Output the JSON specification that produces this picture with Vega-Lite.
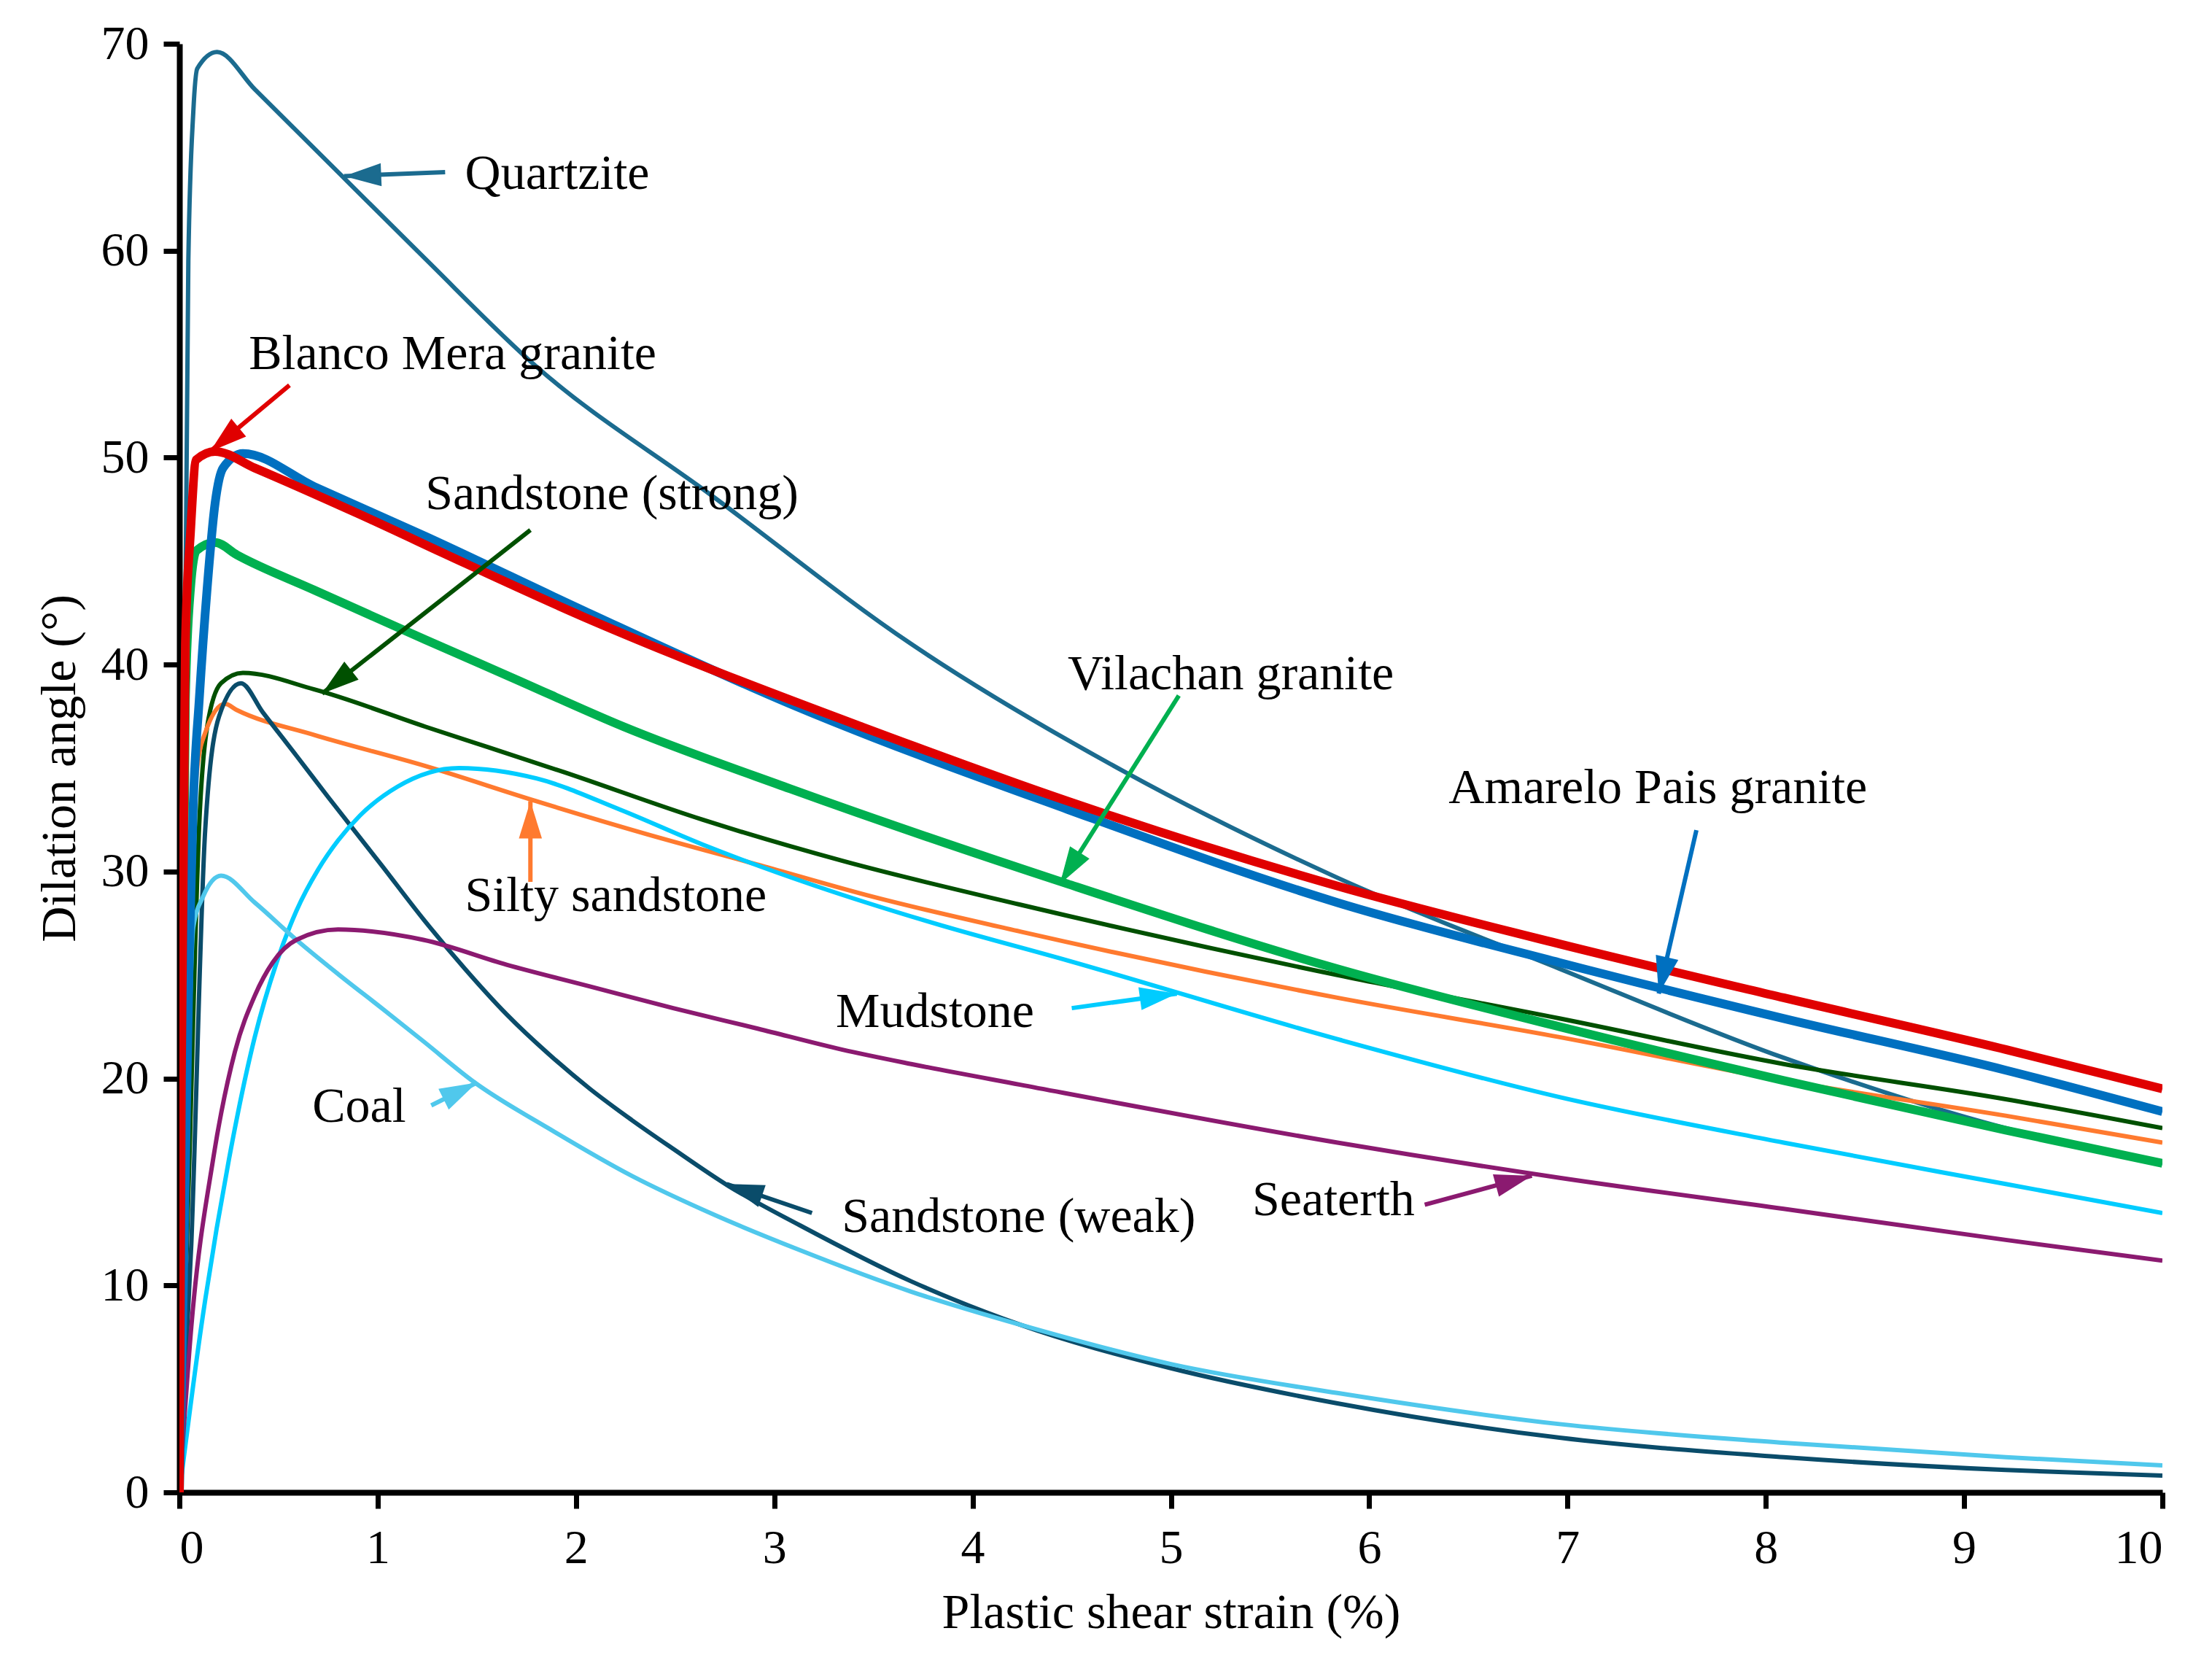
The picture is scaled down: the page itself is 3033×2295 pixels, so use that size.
{
  "$schema": "https://vega.github.io/schema/vega-lite/v6.json",
  "autosize": {"type": "none"},
  "padding": {"left": 246, "top": 60, "right": 68, "bottom": 249},
  "width": 2719,
  "height": 1986,
  "background": "white",
  "config": {
    "view": {"stroke": null},
    "font": "Liberation Serif",
    "axis": {
      "grid": false,
      "domainColor": "black",
      "domainWidth": 8,
      "tickColor": "black",
      "tickWidth": 7,
      "tickSize": 22,
      "labelFont": "Liberation Serif",
      "labelFontSize": 66,
      "labelColor": "black",
      "titleFont": "Liberation Serif",
      "titleFontSize": 68,
      "titleFontWeight": "normal",
      "titleColor": "black"
    }
  },
  "datasets": {
    "curves": [
      {"series": "Quartzite", "x": 0, "y": 0},
      {"series": "Quartzite", "x": 0.02, "y": 30},
      {"series": "Quartzite", "x": 0.045, "y": 59.5},
      {"series": "Quartzite", "x": 0.07, "y": 66.7},
      {"series": "Quartzite", "x": 0.09, "y": 68.8},
      {"series": "Quartzite", "x": 0.19, "y": 69.6},
      {"series": "Quartzite", "x": 0.38, "y": 67.8},
      {"series": "Quartzite", "x": 0.81, "y": 63.7},
      {"series": "Quartzite", "x": 1.23, "y": 59.7},
      {"series": "Quartzite", "x": 1.8, "y": 54.4},
      {"series": "Quartzite", "x": 2.68, "y": 48.2},
      {"series": "Quartzite", "x": 3.69, "y": 41.0},
      {"series": "Quartzite", "x": 4.77, "y": 34.8},
      {"series": "Quartzite", "x": 5.84, "y": 29.7},
      {"series": "Quartzite", "x": 6.96, "y": 25.3},
      {"series": "Quartzite", "x": 8.09, "y": 21.0},
      {"series": "Quartzite", "x": 9.21, "y": 17.6},
      {"series": "Quartzite", "x": 10, "y": 15.9},

      {"series": "Sandstone (strong)", "x": 0, "y": 0},
      {"series": "Sandstone (strong)", "x": 0.05, "y": 16},
      {"series": "Sandstone (strong)", "x": 0.1, "y": 32.3},
      {"series": "Sandstone (strong)", "x": 0.14, "y": 37.0},
      {"series": "Sandstone (strong)", "x": 0.21, "y": 39.1},
      {"series": "Sandstone (strong)", "x": 0.32, "y": 39.6},
      {"series": "Sandstone (strong)", "x": 0.68, "y": 38.8},
      {"series": "Sandstone (strong)", "x": 1.24, "y": 37.0},
      {"series": "Sandstone (strong)", "x": 1.94, "y": 34.8},
      {"series": "Sandstone (strong)", "x": 2.64, "y": 32.5},
      {"series": "Sandstone (strong)", "x": 3.35, "y": 30.5},
      {"series": "Sandstone (strong)", "x": 4.24, "y": 28.4},
      {"series": "Sandstone (strong)", "x": 5.84, "y": 25.0},
      {"series": "Sandstone (strong)", "x": 6.96, "y": 22.9},
      {"series": "Sandstone (strong)", "x": 8.09, "y": 20.7},
      {"series": "Sandstone (strong)", "x": 9.21, "y": 19.0},
      {"series": "Sandstone (strong)", "x": 10, "y": 17.6},

      {"series": "Silty sandstone", "x": 0, "y": 0},
      {"series": "Silty sandstone", "x": 0.02, "y": 10},
      {"series": "Silty sandstone", "x": 0.06, "y": 30},
      {"series": "Silty sandstone", "x": 0.09, "y": 35.0},
      {"series": "Silty sandstone", "x": 0.13, "y": 36.7},
      {"series": "Silty sandstone", "x": 0.23, "y": 38.1},
      {"series": "Silty sandstone", "x": 0.29, "y": 37.8},
      {"series": "Silty sandstone", "x": 0.68, "y": 36.6},
      {"series": "Silty sandstone", "x": 1.24, "y": 35.1},
      {"series": "Silty sandstone", "x": 1.8, "y": 33.4},
      {"series": "Silty sandstone", "x": 2.36, "y": 31.8},
      {"series": "Silty sandstone", "x": 2.93, "y": 30.3},
      {"series": "Silty sandstone", "x": 3.49, "y": 28.8},
      {"series": "Silty sandstone", "x": 4.24, "y": 27.1},
      {"series": "Silty sandstone", "x": 5.84, "y": 23.9},
      {"series": "Silty sandstone", "x": 6.96, "y": 22.0},
      {"series": "Silty sandstone", "x": 8.09, "y": 19.9},
      {"series": "Silty sandstone", "x": 9.21, "y": 18.2},
      {"series": "Silty sandstone", "x": 10, "y": 16.9},

      {"series": "Sandstone (weak)", "x": 0, "y": 0},
      {"series": "Sandstone (weak)", "x": 0.06, "y": 12},
      {"series": "Sandstone (weak)", "x": 0.13, "y": 32},
      {"series": "Sandstone (weak)", "x": 0.2, "y": 37.5},
      {"series": "Sandstone (weak)", "x": 0.31, "y": 39.1},
      {"series": "Sandstone (weak)", "x": 0.42, "y": 37.7},
      {"series": "Sandstone (weak)", "x": 0.59, "y": 35.6},
      {"series": "Sandstone (weak)", "x": 0.75, "y": 33.6},
      {"series": "Sandstone (weak)", "x": 1.02, "y": 30.3},
      {"series": "Sandstone (weak)", "x": 1.23, "y": 27.7},
      {"series": "Sandstone (weak)", "x": 1.44, "y": 25.3},
      {"series": "Sandstone (weak)", "x": 1.65, "y": 23.1},
      {"series": "Sandstone (weak)", "x": 1.86, "y": 21.2},
      {"series": "Sandstone (weak)", "x": 2.07, "y": 19.5},
      {"series": "Sandstone (weak)", "x": 2.28, "y": 18.0},
      {"series": "Sandstone (weak)", "x": 2.49, "y": 16.6},
      {"series": "Sandstone (weak)", "x": 2.77, "y": 14.8},
      {"series": "Sandstone (weak)", "x": 3.13, "y": 12.9},
      {"series": "Sandstone (weak)", "x": 3.69, "y": 10.2},
      {"series": "Sandstone (weak)", "x": 4.24, "y": 8.1},
      {"series": "Sandstone (weak)", "x": 5.0, "y": 6.0},
      {"series": "Sandstone (weak)", "x": 5.84, "y": 4.3},
      {"series": "Sandstone (weak)", "x": 6.96, "y": 2.64},
      {"series": "Sandstone (weak)", "x": 8.09, "y": 1.7},
      {"series": "Sandstone (weak)", "x": 9.21, "y": 1.08},
      {"series": "Sandstone (weak)", "x": 10, "y": 0.81},

      {"series": "Mudstone", "x": 0, "y": 0},
      {"series": "Mudstone", "x": 0.11, "y": 8.0},
      {"series": "Mudstone", "x": 0.25, "y": 16.1},
      {"series": "Mudstone", "x": 0.38, "y": 22.0},
      {"series": "Mudstone", "x": 0.49, "y": 25.6},
      {"series": "Mudstone", "x": 0.59, "y": 28.1},
      {"series": "Mudstone", "x": 0.7, "y": 30.1},
      {"series": "Mudstone", "x": 0.8, "y": 31.5},
      {"series": "Mudstone", "x": 0.91, "y": 32.7},
      {"series": "Mudstone", "x": 1.1, "y": 34.1},
      {"series": "Mudstone", "x": 1.41, "y": 35.0},
      {"series": "Mudstone", "x": 1.8, "y": 34.5},
      {"series": "Mudstone", "x": 2.22, "y": 33.0},
      {"series": "Mudstone", "x": 2.64, "y": 31.3},
      {"series": "Mudstone", "x": 3.21, "y": 29.3},
      {"series": "Mudstone", "x": 3.77, "y": 27.6},
      {"series": "Mudstone", "x": 4.48, "y": 25.7},
      {"series": "Mudstone", "x": 5.84, "y": 21.9},
      {"series": "Mudstone", "x": 6.96, "y": 19.1},
      {"series": "Mudstone", "x": 8.09, "y": 16.9},
      {"series": "Mudstone", "x": 9.21, "y": 14.9},
      {"series": "Mudstone", "x": 10, "y": 13.5},

      {"series": "Coal", "x": 0, "y": 0},
      {"series": "Coal", "x": 0.03, "y": 14},
      {"series": "Coal", "x": 0.07, "y": 27.3},
      {"series": "Coal", "x": 0.12, "y": 28.8},
      {"series": "Coal", "x": 0.21, "y": 29.8},
      {"series": "Coal", "x": 0.38, "y": 28.5},
      {"series": "Coal", "x": 0.59, "y": 26.7},
      {"series": "Coal", "x": 0.8, "y": 25.05},
      {"series": "Coal", "x": 1.02, "y": 23.4},
      {"series": "Coal", "x": 1.23, "y": 21.8},
      {"series": "Coal", "x": 1.49, "y": 19.8},
      {"series": "Coal", "x": 1.86, "y": 17.6},
      {"series": "Coal", "x": 2.28, "y": 15.3},
      {"series": "Coal", "x": 2.7, "y": 13.4},
      {"series": "Coal", "x": 3.13, "y": 11.7},
      {"series": "Coal", "x": 3.69, "y": 9.7},
      {"series": "Coal", "x": 4.24, "y": 8.1},
      {"series": "Coal", "x": 5.0, "y": 6.2},
      {"series": "Coal", "x": 5.84, "y": 4.8},
      {"series": "Coal", "x": 6.96, "y": 3.3},
      {"series": "Coal", "x": 8.09, "y": 2.4},
      {"series": "Coal", "x": 9.21, "y": 1.7},
      {"series": "Coal", "x": 10, "y": 1.3},

      {"series": "Seaterth", "x": 0, "y": 0},
      {"series": "Seaterth", "x": 0.06, "y": 8.0},
      {"series": "Seaterth", "x": 0.17, "y": 16.1},
      {"series": "Seaterth", "x": 0.28, "y": 21.3},
      {"series": "Seaterth", "x": 0.38, "y": 24.0},
      {"series": "Seaterth", "x": 0.47, "y": 25.6},
      {"series": "Seaterth", "x": 0.59, "y": 26.7},
      {"series": "Seaterth", "x": 0.8, "y": 27.2},
      {"series": "Seaterth", "x": 1.23, "y": 26.7},
      {"series": "Seaterth", "x": 1.65, "y": 25.5},
      {"series": "Seaterth", "x": 2.07, "y": 24.45},
      {"series": "Seaterth", "x": 2.49, "y": 23.4},
      {"series": "Seaterth", "x": 2.92, "y": 22.4},
      {"series": "Seaterth", "x": 3.34, "y": 21.4},
      {"series": "Seaterth", "x": 3.69, "y": 20.7},
      {"series": "Seaterth", "x": 4.24, "y": 19.7},
      {"series": "Seaterth", "x": 5.84, "y": 16.9},
      {"series": "Seaterth", "x": 6.96, "y": 15.2},
      {"series": "Seaterth", "x": 8.09, "y": 13.7},
      {"series": "Seaterth", "x": 9.21, "y": 12.2},
      {"series": "Seaterth", "x": 10, "y": 11.2},

      {"series": "Vilachan granite", "x": 0, "y": 0},
      {"series": "Vilachan granite", "x": 0.01, "y": 15},
      {"series": "Vilachan granite", "x": 0.03, "y": 38.3},
      {"series": "Vilachan granite", "x": 0.056, "y": 43.7},
      {"series": "Vilachan granite", "x": 0.085, "y": 45.5},
      {"series": "Vilachan granite", "x": 0.18, "y": 45.9},
      {"series": "Vilachan granite", "x": 0.29, "y": 45.3},
      {"series": "Vilachan granite", "x": 0.68, "y": 43.6},
      {"series": "Vilachan granite", "x": 1.24, "y": 41.2},
      {"series": "Vilachan granite", "x": 1.67, "y": 39.4},
      {"series": "Vilachan granite", "x": 2.24, "y": 37.0},
      {"series": "Vilachan granite", "x": 3.08, "y": 34.0},
      {"series": "Vilachan granite", "x": 4.48, "y": 29.4},
      {"series": "Vilachan granite", "x": 5.84, "y": 25.3},
      {"series": "Vilachan granite", "x": 6.96, "y": 22.5},
      {"series": "Vilachan granite", "x": 8.09, "y": 19.9},
      {"series": "Vilachan granite", "x": 9.21, "y": 17.5},
      {"series": "Vilachan granite", "x": 10, "y": 15.9},

      {"series": "Amarelo Pais granite", "x": 0, "y": 0},
      {"series": "Amarelo Pais granite", "x": 0.02, "y": 10},
      {"series": "Amarelo Pais granite", "x": 0.05, "y": 26},
      {"series": "Amarelo Pais granite", "x": 0.07, "y": 33.3},
      {"series": "Amarelo Pais granite", "x": 0.1, "y": 38.3},
      {"series": "Amarelo Pais granite", "x": 0.14, "y": 43.7},
      {"series": "Amarelo Pais granite", "x": 0.18, "y": 47.8},
      {"series": "Amarelo Pais granite", "x": 0.22, "y": 49.5},
      {"series": "Amarelo Pais granite", "x": 0.32, "y": 50.2},
      {"series": "Amarelo Pais granite", "x": 0.68, "y": 48.6},
      {"series": "Amarelo Pais granite", "x": 1.24, "y": 46.2},
      {"series": "Amarelo Pais granite", "x": 2.04, "y": 42.6},
      {"series": "Amarelo Pais granite", "x": 3.08, "y": 38.1},
      {"series": "Amarelo Pais granite", "x": 4.48, "y": 33.0},
      {"series": "Amarelo Pais granite", "x": 5.84, "y": 28.5},
      {"series": "Amarelo Pais granite", "x": 6.96, "y": 25.6},
      {"series": "Amarelo Pais granite", "x": 8.09, "y": 22.9},
      {"series": "Amarelo Pais granite", "x": 9.21, "y": 20.4},
      {"series": "Amarelo Pais granite", "x": 10, "y": 18.4},

      {"series": "Blanco Mera granite", "x": 0, "y": 0},
      {"series": "Blanco Mera granite", "x": 0.01, "y": 20},
      {"series": "Blanco Mera granite", "x": 0.03, "y": 41},
      {"series": "Blanco Mera granite", "x": 0.056, "y": 46.4},
      {"series": "Blanco Mera granite", "x": 0.085, "y": 49.9},
      {"series": "Blanco Mera granite", "x": 0.18, "y": 50.3},
      {"series": "Blanco Mera granite", "x": 0.38, "y": 49.5},
      {"series": "Blanco Mera granite", "x": 0.9, "y": 47.3},
      {"series": "Blanco Mera granite", "x": 1.44, "y": 44.9},
      {"series": "Blanco Mera granite", "x": 2.04, "y": 42.3},
      {"series": "Blanco Mera granite", "x": 2.49, "y": 40.5},
      {"series": "Blanco Mera granite", "x": 3.44, "y": 37.0},
      {"series": "Blanco Mera granite", "x": 4.48, "y": 33.4},
      {"series": "Blanco Mera granite", "x": 5.84, "y": 29.3},
      {"series": "Blanco Mera granite", "x": 6.96, "y": 26.5},
      {"series": "Blanco Mera granite", "x": 8.09, "y": 23.9},
      {"series": "Blanco Mera granite", "x": 9.21, "y": 21.4},
      {"series": "Blanco Mera granite", "x": 10, "y": 19.5}
    ],
    "labels": [
      {"series": "Quartzite", "text": "Quartzite", "x": 1.44, "y": 63.7},
      {"series": "Blanco Mera granite", "text": "Blanco Mera granite", "x": 0.35, "y": 55.0},
      {"series": "Sandstone (strong)", "text": "Sandstone (strong)", "x": 1.24, "y": 48.2},
      {"series": "Vilachan granite", "text": "Vilachan granite", "x": 4.48, "y": 39.5},
      {"series": "Amarelo Pais granite", "text": "Amarelo Pais granite", "x": 6.4, "y": 34.0},
      {"series": "Silty sandstone", "text": "Silty sandstone", "x": 1.44, "y": 28.8},
      {"series": "Mudstone", "text": "Mudstone", "x": 3.31, "y": 23.2},
      {"series": "Coal", "text": "Coal", "x": 0.67, "y": 18.6},
      {"series": "Sandstone (weak)", "text": "Sandstone (weak)", "x": 3.34, "y": 13.3},
      {"series": "Seaterth", "text": "Seaterth", "x": 5.41, "y": 14.1}
    ],
    "arrows": [
      {"series": "Quartzite", "x": 1.34, "y": 63.8, "x2": 0.83, "y2": 63.6},
      {"series": "Blanco Mera granite", "x": 0.555, "y": 53.5, "x2": 0.155, "y2": 50.3},
      {"series": "Sandstone (strong)", "x": 1.77, "y": 46.5, "x2": 0.72, "y2": 38.6},
      {"series": "Vilachan granite", "x": 5.04, "y": 38.5, "x2": 4.44, "y2": 29.4},
      {"series": "Amarelo Pais granite", "x": 7.65, "y": 32.0, "x2": 7.46, "y2": 24.1},
      {"series": "Silty sandstone", "x": 1.77, "y": 29.5, "x2": 1.77, "y2": 33.4},
      {"series": "Mudstone", "x": 4.5, "y": 23.4, "x2": 5.03, "y2": 24.1},
      {"series": "Coal", "x": 1.27, "y": 18.7, "x2": 1.5, "y2": 19.8},
      {"series": "Sandstone (weak)", "x": 3.19, "y": 13.5, "x2": 2.76, "y2": 14.9},
      {"series": "Seaterth", "x": 6.28, "y": 13.9, "x2": 6.82, "y2": 15.3}
    ]
  },
  "encoding": {
    "x": {
      "field": "x",
      "type": "quantitative",
      "scale": {"domain": [0, 10], "nice": false, "zero": false},
      "axis": {"values": [0, 1, 2, 3, 4, 5, 6, 7, 8, 9, 10], "title": "Plastic shear strain (%)", "labelPadding": 22, "titlePadding": 22}
    },
    "y": {
      "field": "y",
      "type": "quantitative",
      "scale": {"domain": [0, 70], "nice": false},
      "axis": {"values": [0, 10, 20, 30, 40, 50, 60, 70], "title": "Dilation angle (°)", "labelPadding": 20, "titlePadding": 22}
    }
  },
  "layer": [
    {
      "data": {"name": "curves"},
      "transform": [{"filter": "datum.series !== 'Vilachan granite' && datum.series !== 'Amarelo Pais granite' && datum.series !== 'Blanco Mera granite'"}],
      "mark": {"type": "line", "interpolate": "monotone", "strokeWidth": 6, "clip": true},
      "encoding": {
        "color": {"field": "series", "type": "nominal", "legend": null,
          "scale": {
            "domain": ["Quartzite", "Blanco Mera granite", "Amarelo Pais granite", "Vilachan granite", "Sandstone (strong)", "Silty sandstone", "Sandstone (weak)", "Mudstone", "Coal", "Seaterth"],
            "range": ["#1B6B8F", "#E00000", "#0070C0", "#00B050", "#005000", "#FF7A2F", "#0A4C6A", "#00CCFF", "#50C8EC", "#8B1A70"]
          }},
        "order": {"field": "x", "type": "quantitative"}
      }
    },
    {
      "data": {"name": "curves"},
      "transform": [{"filter": "datum.series === 'Vilachan granite' || datum.series === 'Amarelo Pais granite' || datum.series === 'Blanco Mera granite'"}],
      "mark": {"type": "line", "interpolate": "monotone", "strokeWidth": 12, "clip": true},
      "encoding": {
        "color": {"field": "series", "type": "nominal", "legend": null},
        "order": {"field": "x", "type": "quantitative"}
      }
    },
    {
      "data": {"name": "arrows"},
      "mark": {"type": "rule", "strokeWidth": 6},
      "encoding": {
        "x2": {"field": "x2"},
        "y2": {"field": "y2"},
        "color": {"field": "series", "type": "nominal", "legend": null}
      }
    },
    {
      "data": {"name": "arrows"},
      "transform": [
        {"calculate": "atan2((datum.x2 - datum.x) * 271.9, (datum.y2 - datum.y) * 28.37) * 180 / PI", "as": "ang"}
      ],
      "mark": {"type": "point", "shape": "M0,0L-0.62,2L0.62,2Z", "filled": true, "size": 2600, "opacity": 1, "strokeWidth": 0},
      "encoding": {
        "x": {"field": "x2", "type": "quantitative"},
        "y": {"field": "y2", "type": "quantitative"},
        "angle": {"field": "ang", "type": "quantitative", "scale": null},
        "color": {"field": "series", "type": "nominal", "legend": null}
      }
    },
    {
      "data": {"name": "labels"},
      "mark": {"type": "text", "align": "left", "baseline": "middle", "font": "Liberation Serif", "fontSize": 68, "color": "black"},
      "encoding": {
        "text": {"field": "text"}
      }
    }
  ]
}
